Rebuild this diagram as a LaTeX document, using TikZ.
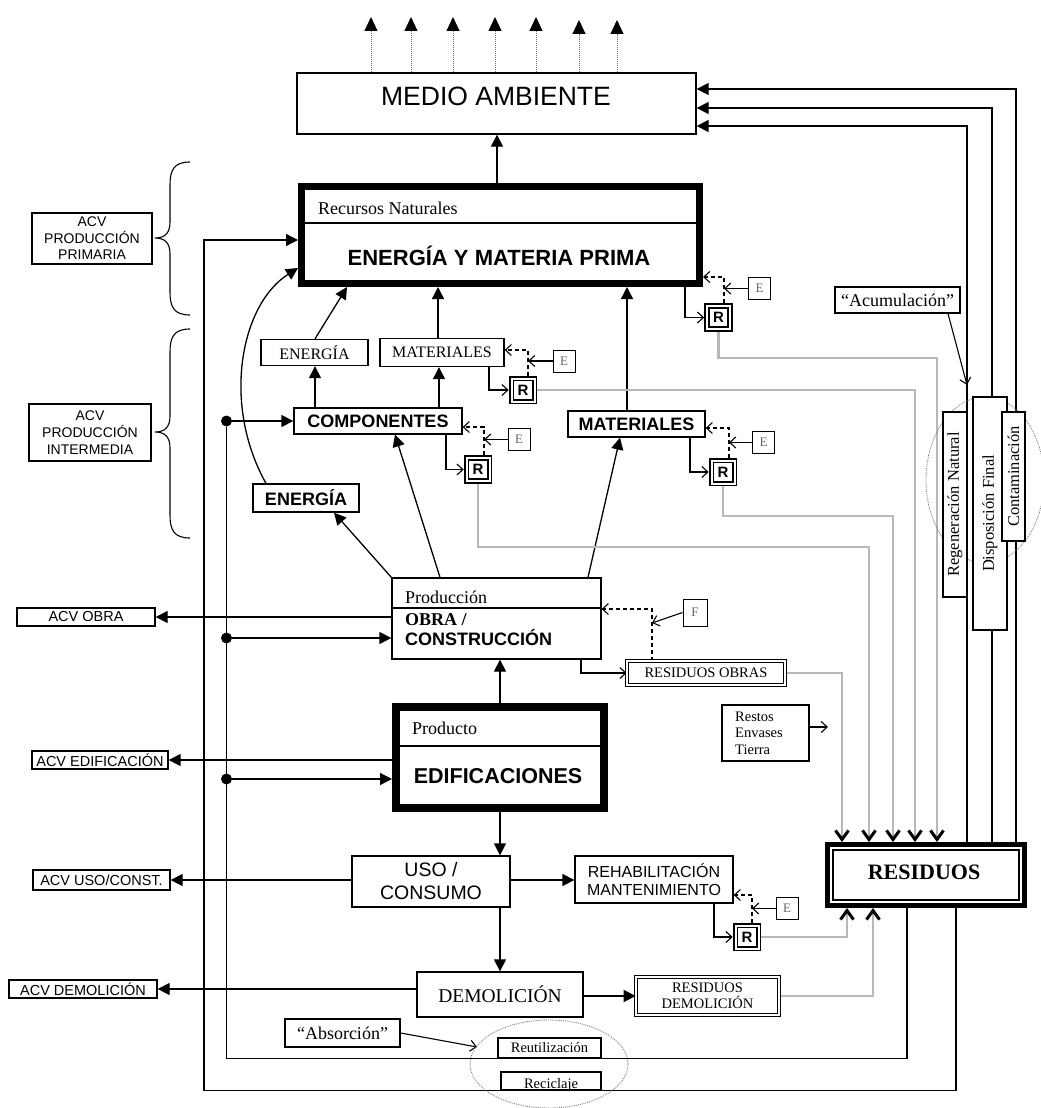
\documentclass[tikz,border=0pt]{standalone}
\usepackage{fontspec}
\setmainfont{Liberation Serif}
\newfontfamily\arial{Liberation Sans}
\usetikzlibrary{arrows.meta}
\pgfdeclarelayer{bg}
\pgfsetlayers{bg,main}
\newcommand\fz[2]{\fontsize{#1pt}{#2pt}\selectfont}
\tikzset{
  box/.style={draw, line width=1.3pt, fill=white, inner sep=0pt, align=center},
  dbox/.style={draw, line width=1.1pt, double=white, double distance=2.2pt, fill=white, inner sep=0pt, align=center},
  rbox/.style={draw, line width=1.8pt, double=white, double distance=2pt, fill=white, inner sep=0pt, minimum size=23pt, outer sep=2.8pt, font=\arial\bfseries\fz{15}{17}},
  ebox/.style={box, line width=1pt, minimum width=22pt, minimum height=22pt, font=\fz{13}{15}, text=black!60},
  txt/.style={inner sep=0pt},
  arr/.style={line width=1.3pt, -{Triangle[length=12pt,width=12pt]}},
  ln/.style={line width=1.3pt},
  oarr/.style={line width=1.1pt, -{Straight Barb[length=6pt,width=11pt]}},
  dsh/.style={line width=1.1pt, dash pattern=on 4pt off 3pt, -{Straight Barb[length=6pt,width=11pt]}},
  gln/.style={line width=2.2pt, draw=black!28, -{Straight Barb[length=9pt,width=13pt,line width=3pt,color=black]}},
  dotarr/.style={line width=1pt, draw=black!55, densely dotted, -{Triangle[length=14pt,width=13pt,color=black]}},
  dot/.style={circle, fill=black, inner sep=0pt, minimum size=11pt},
  bracel/.style={line width=1.1pt},
  ell/.style={line width=0.9pt, draw=black!50, densely dotted},
}
\begin{document}
\begin{tikzpicture}[x=1pt,y=-1pt]
\useasboundingbox (0,0) rectangle (1041,1108);

% ---------- nodes ----------
\node[box, minimum width=399pt, minimum height=61pt] (medio) at (496.5,103.5) {};
\node[txt, anchor=base, font=\arial\fz{26.5}{30}] (medioT) at (496,105) {MEDIO AMBIENTE};

\node[box, line width=7pt, minimum width=398pt, minimum height=97pt] (recursos) at (500.5,235) {};
\draw[line width=1.2pt] (recursos.west |- 0,223) -- (recursos.east |- 0,223);
\node[txt, anchor=base west, font=\fz{18}{21}] (recT1) at (318,214) {Recursos Naturales};
\node[txt, anchor=base, font=\arial\bfseries\fz{22}{26}] (recT2) at (499,265) {ENERGÍA Y MATERIA PRIMA};

\node[box, minimum width=107pt, minimum height=26pt, font=\fz{16}{19}] (energia1) at (314.5,352.5) {ENERGÍA};
\node[box, minimum width=124pt, minimum height=28pt, font=\fz{16}{19}] (materiales1) at (442,352.5) {MATERIALES};
\node[box, minimum width=168pt, minimum height=26pt, font=\arial\bfseries\fz{18}{21}] (componentes) at (378,421) {COMPONENTES};
\node[box, minimum width=137pt, minimum height=26pt, font=\arial\bfseries\fz{18}{21}] (materiales2) at (636.5,424) {MATERIALES};
\node[box, minimum width=106pt, minimum height=28pt, font=\arial\bfseries\fz{18}{21}] (energia2) at (306,498) {ENERGÍA};

\node[box, minimum width=209pt, minimum height=81pt] (produccion) at (496.5,618.5) {};
\draw[line width=1.2pt] (produccion.west |- 0,608) -- (produccion.east |- 0,608);
\node[txt, anchor=base west, font=\fz{18}{21}] (prodT1) at (405,603) {Producción};
\node[txt, anchor=base west, font=\bfseries\fz{18}{21}] (prodT2) at (405,625) {OBRA /};
\node[txt, anchor=base west, font=\arial\bfseries\fz{18}{21}] (prodT3) at (405,645) {CONSTRUCCIÓN};

\node[box, line width=8pt, minimum width=208pt, minimum height=101pt] (edif) at (500,757.5) {};
\draw[line width=1.2pt] (edif.west |- 0,746) -- (edif.east |- 0,746);
\node[txt, anchor=base west, font=\fz{18}{21}] (edifT1) at (412,734) {Producto};
\node[txt, anchor=base, font=\arial\bfseries\fz{21.5}{25}] (edifT2) at (498,783) {EDIFICACIONES};

\node[box, minimum width=158pt, minimum height=51pt, font=\arial\fz{19.5}{23}] (uso) at (431,881.5) {USO /\\CONSUMO};
\node[box, minimum width=158pt, minimum height=47pt, font=\arial\fz{16}{18}] (rehab) at (654,879.5) {REHABILITACIÓN\\MANTENIMIENTO};
\node[box, minimum width=166pt, minimum height=45pt, font=\fz{19.5}{23}] (demol) at (500,994.5) {DEMOLICIÓN};
\node[dbox, minimum width=142.6pt, minimum height=37.6pt, font=\fz{14.5}{16}] (resdemol) at (707.5,996) {RESIDUOS\\DEMOLICIÓN};
\node[dbox, minimum width=157.6pt, minimum height=23.6pt, font=\fz{14.5}{16}] (resobras) at (706,673) {RESIDUOS OBRAS};

\node[box, line width=5pt, minimum width=197pt, minimum height=61pt] (residuos) at (926,875) {};
\draw[line width=1.2pt] ([shift={(8,8)}]residuos.north west) rectangle ([shift={(-8,-8)}]residuos.south east);
\node[txt, anchor=base, font=\bfseries\fz{22}{26}] (residuosT) at (924,879) {RESIDUOS};

\node[box, minimum width=87pt, minimum height=56pt] (restos) at (765.5,733) {};
\node[txt, anchor=west, align=left, font=\fz{14.5}{16.5}] (restosT) at (735,733) {Restos\\Envases\\Tierra};

\node[rbox] (rRec) at (718.5,317.5) {R};
\node[rbox] (rMat1) at (523,390) {R};
\node[rbox] (rComp) at (478,469.5) {R};
\node[rbox] (rMat2) at (723,472) {R};
\node[rbox] (rRehab) at (747,937) {R};

\node[ebox] (eRec) at (759.5,288.5) {E};
\node[ebox] (eMat1) at (564,361) {E};
\node[ebox] (eComp) at (519,439.5) {E};
\node[ebox] (eMat2) at (763.5,442.5) {E};
\node[ebox] (eRehab) at (787,908.5) {E};
\node[ebox, minimum width=24pt, minimum height=27pt] (fProd) at (695,612.5) {F};

\node[box, minimum width=125pt, minimum height=26pt, font=\fz{18}{21}] (acum) at (897.5,300) {“Acumulación”};

\node[box, rotate=90, minimum width=185pt, minimum height=24pt, font=\fz{16.5}{19}] (regen) at (955,504.5) {Regeneración Natural};
\node[box, rotate=90, minimum width=233pt, minimum height=34pt, font=\fz{16.5}{19}] (disp) at (990,513.5) {Disposición Final};
\node[box, rotate=90, minimum width=129pt, minimum height=23pt, font=\fz{16.5}{19}] (cont) at (1013.5,476.5) {Contaminación};

\node[box, minimum width=120pt, minimum height=51pt, font=\arial\fz{14}{16.5}] (acvPrim) at (92,238.5) {ACV\\PRODUCCIÓN\\PRIMARIA};
\node[box, minimum width=122pt, minimum height=57pt, font=\arial\fz{14}{17}] (acvInt) at (90,432.5) {ACV\\PRODUCCIÓN\\INTERMEDIA};
\node[box, minimum width=138pt, minimum height=18pt, font=\arial\fz{14.5}{17}] (acvObra) at (86,617) {ACV OBRA};
\node[box, minimum width=136pt, minimum height=18pt, font=\arial\fz{14.5}{17}] (acvEdif) at (100,760) {ACV EDIFICACIÓN};
\node[box, minimum width=137pt, minimum height=20pt, font=\arial\fz{14.5}{17}] (acvUso) at (101.5,880) {ACV USO/CONST.};
\node[box, minimum width=148pt, minimum height=18pt, font=\arial\fz{14.5}{17}] (acvDem) at (83,989) {ACV DEMOLICIÓN};

\node[box, minimum width=115pt, minimum height=28pt, font=\fz{18}{21}] (absorcion) at (342.5,1033) {“Absorción”};
\node[box, minimum width=103pt, minimum height=20pt, font=\fz{14.5}{17}] (reutil) at (549.5,1048) {Reutilización};
\node[box, minimum width=100pt, minimum height=18pt] (reciclaje) at (551,1081) {};
\node[txt, anchor=base, font=\fz{14.5}{17}] (recicT) at (551,1088) {Reciclaje};

\node[dot] (d1) at (226.5,421) {};
\node[dot] (d2) at (226.5,638) {};
\node[dot] (d3) at (226.5,779) {};

\coordinate (acumTip) at (967,385);
\coordinate (absTip) at (477,1047);
\coordinate (restosTip) at (828,727);

% ---------- connectors ----------
\begin{pgfonlayer}{bg}
\foreach \x/\y [count=\i] in {371/17,411/17,453/17,495/17,536/17,579/20,617/20}{
  \coordinate (top\i) at (\x,\y);
  \draw[dotarr] (\x,0 |- medio.north) -- (top\i);
}
\draw[arr] (497,0 |- recursos.north) -- (497,0 |- medio.south);
\draw[arr] (967,0 |- residuos.north) -- (967,126) -- (medio.east |- 0,126);
\draw[arr] (992,0 |- residuos.north) -- (992,108) -- (medio.east |- 0,108);
\draw[arr] (1016,0 |- residuos.north) -- (1016,89) -- (medio.east |- 0,89);

\draw[arr] (315,0 |- energia1.north) -- (347,0 |- recursos.south);
\draw[arr] (438,0 |- materiales1.north) -- (438,0 |- recursos.south);
\draw[arr] (627,0 |- materiales2.north) -- (627,0 |- recursos.south);
\draw[arr] (266,0 |- energia2.north) .. controls (222,405) and (240,305) .. (recursos.west |- 0,268);

\draw[arr] (956,0 |- residuos.south) -- (956,0 |- reciclaje.south) -- (204,0 |- reciclaje.south) -- (204,240) -- (recursos.west |- 0,240);
\draw[ln] (907,0 |- residuos.south) -- (907,0 |- reutil.south) -- (d1 |- reutil.south) -- (d1);

\draw[arr] (d1) -- (componentes.west |- d1);
\draw[arr] (d2) -- (produccion.west |- d2);
\draw[arr] (d3) -- (edif.west |- d3);

\draw[arr] (315,0 |- componentes.north) -- (315,0 |- energia1.south);
\draw[arr] (439,0 |- componentes.north) -- (439,0 |- materiales1.south);
\draw[arr] (produccion.north west) -- (334,0 |- energia2.south);
\draw[arr] (440,0 |- produccion.north) -- (395,0 |- componentes.south);
\draw[arr] (588,0 |- produccion.north) -- (620,0 |- materiales2.south);

\draw[arr] (produccion.west |- acvObra.east) -- (acvObra.east);
\draw[arr] (edif.west |- acvEdif.east) -- (acvEdif.east);
\draw[arr] (uso.west |- acvUso.east) -- (acvUso.east);
\draw[arr] (demol.west |- acvDem.east) -- (acvDem.east);

\draw[arr] (500,0 |- edif.north) -- (500,0 |- produccion.south);
\draw[arr] (500,0 |- edif.south) -- (500,0 |- uso.north);
\draw[arr] (500,0 |- uso.south) -- (500,0 |- demol.north);
\draw[arr] (uso.east |- 0,880) -- (rehab.west |- 0,880);
\draw[arr] (demol.east |- 0,996) -- (resdemol.west |- 0,996);

\draw[oarr] (685,0 |- recursos.south) |- (rRec.west);
\draw[oarr] (489,0 |- materiales1.south) |- (rMat1.west);
\draw[oarr] (446,0 |- componentes.south) |- (rComp.west);
\draw[oarr] (690,0 |- materiales2.south) |- (rMat2.west);
\draw[oarr] (714,0 |- rehab.south) |- (rRehab.west);
\draw[oarr] (581,0 |- produccion.south) |- (resobras.west);

\draw[dsh] (724,0 |- rRec.north) |- (recursos.east |- 0,277);
\draw[dsh] (528,0 |- rMat1.north) |- (materiales1.east |- 0,350);
\draw[dsh] (484,0 |- rComp.north) |- (componentes.east |- 0,427);
\draw[dsh] (729,0 |- rMat2.north) |- (materiales2.east |- 0,428);
\draw[dsh] (752,0 |- rRehab.north) |- (rehab.east |- 0,895);
\draw[dsh] (652,0 |- resobras.north) |- (produccion.east |- 0,609);

\draw[oarr] (eRec.west) -- (eRec.west -| 724,0);
\draw[oarr] (eMat1.west) -- (eMat1.west -| 528,0);
\draw[oarr] (eComp.west) -- (eComp.west -| 484,0);
\draw[oarr] (eMat2.west) -- (eMat2.west -| 729,0);
\draw[oarr] (eRehab.west) -- (eRehab.west -| 752,0);
\draw[oarr] (fProd.west) -- (652,623);

\draw[gln] (resobras.east) -- (842,0 |- resobras.east) -- (842,0 |- residuos.north);
\draw[gln] (rComp.south) -- (rComp.south |- 0,547) -- (869,547) -- (869,0 |- residuos.north);
\draw[gln] (rMat2.south) -- (rMat2.south |- 0,516) -- (893,516) -- (893,0 |- residuos.north);
\draw[gln] (rMat1.east) -- (915,0 |- rMat1.east) -- (915,0 |- residuos.north);
\draw[gln] (rRec.south) -- (rRec.south |- 0,358) -- (937,358) -- (937,0 |- residuos.north);
\draw[gln] (rRehab.east) -- (847,0 |- rRehab.east) -- (847,0 |- residuos.south);
\draw[gln] (resdemol.east) -- (873,0 |- resdemol.east) -- (873,0 |- residuos.south);

\draw[oarr] (948,0 |- acum.south) -- (acumTip);
\draw[oarr] (absorcion.east) -- (absTip);
\draw[oarr] (797,0 |- restosTip) -- (restosTip);

\draw[ell] (549,1064) ellipse [x radius=79pt, y radius=44pt];
\draw[ell] (985,480) ellipse [x radius=59pt, y radius=83pt];
\end{pgfonlayer}

% braces
\draw[bracel] (190,162) .. controls (174,162) and (170,170) .. (170,185) -- (170,222) .. controls (170,233) and (165,238) .. (155,238) .. controls (165,238) and (170,243) .. (170,254) -- (170,292) .. controls (170,307) and (174,315) .. (190,315);
\draw[bracel] (190,329) .. controls (174,329) and (170,337) .. (170,352) -- (170,416) .. controls (170,427) and (165,432) .. (155,432) .. controls (165,432) and (170,437) .. (170,448) -- (170,515) .. controls (170,530) and (174,538) .. (190,538);
\end{tikzpicture}
\end{document}
